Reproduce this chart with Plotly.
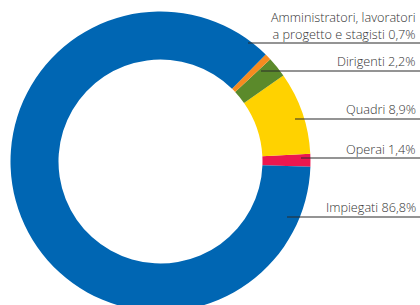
import plotly.graph_objects as go

# ---- data ----
categories = ["Operai", "Quadri", "Dirigenti",
              "Amministratori, lavoratori a progetto e stagisti", "Impiegati"]
values = [1.4, 8.9, 2.2, 0.7, 86.8]
label_texts = ["Operai 1,4%", "Quadri 8,9%", "Dirigenti 2,2%",
               "Amministratori, lavoratori<br>a progetto e stagisti 0,7%",
               "Impiegati 86,8%"]
colors = ["#ec174f", "#ffd200", "#5b8a2b", "#f68b1f", "#0066b3"]

# ---- layout constants (pixels) ----
W, H = 420, 320
CX, CY, R = 160.5, 161.5, 150
# label text center y, leader line y, leader line start x
label_y = [149, 109, 61, 25, 207]
line_y = [158, 119, 71, 43, 217]
line_x0 = [301, 295, 261, 248, 287]


def px(x):
    return x / W


def py(y):
    return 1 - y / H


fig = go.Figure(go.Pie(
    labels=categories,
    values=values,
    marker=dict(colors=colors, line=dict(width=0)),
    hole=0.68,
    sort=False,
    direction="counterclockwise",
    rotation=87,
    textinfo="none",
    hoverinfo="label+percent",
    domain=dict(x=[px(CX - R), px(CX + R)], y=[py(CY + R), py(CY - R)]),
    showlegend=False,
))

for t, ty, ly, lx in zip(label_texts, label_y, line_y, line_x0):
    fig.add_shape(type="line", xref="paper", yref="paper",
                  x0=px(lx), x1=1, y0=py(ly), y1=py(ly),
                  line=dict(color="#2a2a2a", width=1.2))
    fig.add_annotation(text=t, xref="paper", yref="paper",
                       x=px(418), y=py(ty), xanchor="right", yanchor="middle",
                       align="right", showarrow=False,
                       font=dict(family="Open Sans", size=12.7, color="#333333",
                                 weight=300))

fig.update_layout(width=W, height=H, margin=dict(l=0, r=0, t=0, b=0),
                  paper_bgcolor="white", plot_bgcolor="white")

fig.write_html("out.html",
               config={"displayModeBar": False},
               post_script="document.body.style.margin='0';"
                           "document.body.style.overflow='hidden';"
                           "document.documentElement.style.overflow='hidden';")
